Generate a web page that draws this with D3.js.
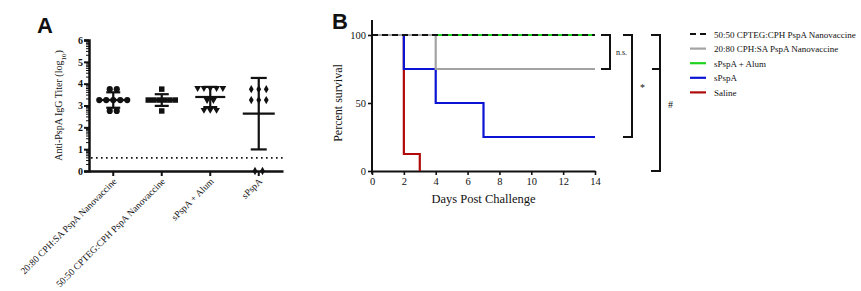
<!DOCTYPE html>
<html>
<head>
<meta charset="utf-8">
<script src="https://cdn.jsdelivr.net/npm/d3@7"></script>
<style>
  html, body { margin: 0; padding: 0; background: #fff; }
  svg { display: block; }
  text { font-family: "Liberation Serif", "Times New Roman", serif; fill: #111; }
</style>
</head>
<body>
<div id="chart"></div>
<script>
// ---- panel A data ----
const titerGroups = ['20:80 CPH:SA PspA Nanovaccine', '50:50 CPTEG:CPH PspA Nanovaccine', 'sPspA + Alum', 'sPspA'];
const titerShapes = ['circle', 'square', 'triangle', 'diamond'];
const titerCph    = [3.75, 3.75, 3.25, 3.25, 3.25, 3.25, 3.25, 2.75, 2.75];
const titerCpteg  = [3.75, 3.25, 3.25, 3.25, 3.25, 3.25, 3.25, 2.75];
const titerAlum   = [3.8, 3.8, 3.8, 3.8, 3.8, 3.25, 3.25, 2.8, 2.8, 2.8];
const titerSoluble= [3.75, 3.75, 3.75, 3.25, 3.25, 3.25, 0, 0];
const titerTicks  = [0, 1, 2, 3, 4, 5, 6];
const detectionLimit = 0.6;

// ---- panel B data ----
const survNames  = ['50:50 CPTEG:CPH PspA Nanovaccine', '20:80 CPH:SA PspA Nanovaccine', 'sPspA + Alum', 'sPspA', 'Saline'];
const survColors = ['#111111', '#a3a3a3', '#1ed21e', '#0a14d2', '#b00a0a'];
const survCpteg  = [[0, 100], [14, 100]];
const survCph    = [[0, 100], [4, 75], [14, 75]];
const survAlum   = [[0, 100], [14, 100]];
const survSoluble= [[0, 100], [2, 75], [4, 50], [7, 25], [14, 25]];
const survSaline = [[0, 100], [2, 12.5], [3, 0]];
const dayTicks   = [0, 2, 4, 6, 8, 10, 12, 14];
const pctTicks   = [0, 50, 100];
// brackets: [top %, bottom %, label]
const brackets   = [[100, 75, 'n.s.'], [100, 25, '*'], [100, 0, '#']];

const W = 861, H = 291;
const svg = d3.select('#chart').append('svg').attr('width', W).attr('height', H);

// ================= PANEL A =================
(function panelA() {
  const g = svg.append('g');
  const x = d3.scaleBand().domain(titerGroups).range([89, 283]);
  const y = d3.scaleLinear().domain([0, 6]).range([171, 40]);

  g.append('text').attr('x', 37).attr('y', 33)
    .style('font-family', '"Liberation Sans", Arial, sans-serif')
    .style('font-weight', 700).style('font-size', '22px')
    .text('A');

  // minor ticks (log spacing inside each unit)
  const minor = [];
  for (let d = 0; d < 6; d++) for (let k = 2; k <= 9; k++) minor.push(d + Math.log10(k));
  g.selectAll('line.minor').data(minor).join('line')
    .attr('x1', 86).attr('x2', 89)
    .attr('y1', d => y(d)).attr('y2', d => y(d))
    .attr('stroke', '#111').attr('stroke-width', 1);

  const yAxis = g.append('g').attr('transform', 'translate(89,0)')
    .call(d3.axisLeft(y).tickValues(titerTicks).tickSize(5).tickPadding(1).tickFormat(d3.format('d')));
  yAxis.select('.domain').attr('stroke', '#111').attr('stroke-width', 2.5);
  yAxis.selectAll('.tick line').attr('stroke', '#111').attr('stroke-width', 2);
  yAxis.selectAll('.tick text')
    .style('font-family', '"Liberation Serif", serif').style('font-weight', 700)
    .style('font-size', '10px').style('fill', '#111');

  const xAxis = g.append('g').attr('transform', 'translate(0,171)')
    .call(d3.axisBottom(x).tickSize(5).tickSizeOuter(0).tickFormat(''));
  xAxis.select('.domain').attr('stroke', '#111').attr('stroke-width', 2.5);
  xAxis.selectAll('.tick line').attr('stroke', '#111').attr('stroke-width', 2);

  // rotated category labels
  g.selectAll('text.cat').data(titerGroups).join('text')
    .attr('class', 'cat')
    .attr('text-anchor', 'end')
    .attr('transform', d => `translate(${x(d) + x.bandwidth() / 2 + 4},${182}) rotate(-45)`)
    .style('font-size', '9.5px')
    .text(d => d);

  // y label
  g.append('text')
    .attr('transform', `translate(62,${y(3)}) rotate(-90)`)
    .attr('text-anchor', 'middle')
    .style('font-size', '10px')
    .html('Anti-PspA IgG Titer (log<tspan baseline-shift="sub" font-size="7px">10</tspan>)');

  // detection limit
  g.append('line')
    .attr('x1', 91).attr('x2', 283)
    .attr('y1', y(detectionLimit)).attr('y2', y(detectionLimit))
    .attr('stroke', '#111').attr('stroke-width', 1.6)
    .attr('stroke-dasharray', '1.6,3.4');

  const series = [titerCph, titerCpteg, titerAlum, titerSoluble];
  const symType = { circle: d3.symbolCircle, square: d3.symbolSquare, triangle: d3.symbolTriangle, diamond: d3.symbolDiamond };
  const symSize = { circle: 30, square: 30, triangle: 20, diamond: 20 };
  const symGap  = { circle: 7, square: 5.4, triangle: 6.3, diamond: 7.5 };

  series.forEach((vals, i) => {
    const cat = titerGroups[i];
    const cx = x(cat) + x.bandwidth() / 2;
    const shape = titerShapes[i];
    const mean = d3.mean(vals), sd = d3.deviation(vals);
    const gg = g.append('g');

    // swarm: spread equal values side by side
    const rows = d3.group(vals, v => v);
    const pts = [];
    rows.forEach((arr, v) => arr.forEach((_, j) => pts.push({ v, dx: (j - (arr.length - 1) / 2) * symGap[shape] })));

    gg.selectAll('path.pt').data(pts).join('path')
      .attr('class', 'pt')
      .attr('d', d3.symbol().type(symType[shape]).size(symSize[shape]))
      .attr('transform', d => `translate(${cx + d.dx},${y(d.v)})${shape === 'triangle' ? ' rotate(180)' : ''}`)
      .attr('fill', '#111');

    // mean ± SD
    const wide = i === 3 ? 16 : 15, cap = i === 3 ? 8 : 7;
    const seg = [
      [cx - wide, y(mean), cx + wide, y(mean)],
      [cx, y(mean - sd), cx, y(mean + sd)],
      [cx - cap, y(mean + sd), cx + cap, y(mean + sd)],
      [cx - cap, y(mean - sd), cx + cap, y(mean - sd)]
    ];
    gg.selectAll('line.err').data(seg).join('line')
      .attr('x1', d => d[0]).attr('y1', d => d[1]).attr('x2', d => d[2]).attr('y2', d => d[3])
      .attr('stroke', '#111').attr('stroke-width', 2.2);
  });
})();

// ================= PANEL B =================
(function panelB() {
  const g = svg.append('g');
  const x = d3.scaleLinear().domain([0, 14]).range([372, 595]);
  const y = d3.scaleLinear().domain([0, 100]).range([171, 35]);

  g.append('text').attr('x', 332).attr('y', 29)
    .style('font-family', '"Liberation Sans", Arial, sans-serif')
    .style('font-weight', 700).style('font-size', '22px')
    .text('B');

  const yAxis = g.append('g').attr('transform', 'translate(372,0)')
    .call(d3.axisLeft(y).tickValues(pctTicks).tickSize(4).tickSizeOuter(0).tickPadding(2));
  yAxis.select('.domain').remove();
  yAxis.selectAll('.tick line').attr('stroke', '#111').attr('stroke-width', 1.6);
  yAxis.selectAll('.tick text').style('font-size', '10.5px').style('fill', '#111');
  g.append('line').attr('x1', 372).attr('x2', 372).attr('y1', y(-2)).attr('y2', y(111))
    .attr('stroke', '#111').attr('stroke-width', 2);

  const xAxis = g.append('g').attr('transform', 'translate(0,171)')
    .call(d3.axisBottom(x).tickValues(dayTicks).tickSize(4).tickSizeOuter(0).tickPadding(3));
  xAxis.select('.domain').attr('stroke', '#111').attr('stroke-width', 2);
  xAxis.selectAll('.tick line').attr('stroke', '#111').attr('stroke-width', 1.6);
  xAxis.selectAll('.tick text').style('font-size', '10.5px').style('fill', '#111');

  g.append('text').attr('x', x(7)).attr('y', 203).attr('text-anchor', 'middle')
    .style('font-size', '12.5px').text('Days Post Challenge');
  g.append('text').attr('transform', `translate(342,${y(50)}) rotate(-90)`)
    .attr('text-anchor', 'middle').style('font-size', '12px').text('Percent survival');

  const line = d3.line().x(d => x(d[0])).y(d => y(d[1])).curve(d3.curveStepAfter);
  const curves = [survCpteg, survCph, survAlum, survSoluble, survSaline];
  // draw bottom-up so dashed black lies on top
  [4, 3, 2, 1, 0].forEach(i => {
    g.append('path').datum(curves[i])
      .attr('d', line)
      .attr('fill', 'none')
      .attr('stroke', survColors[i])
      .attr('stroke-width', 2.2)
      .attr('stroke-dasharray', i === 0 ? '6,4' : null);
  });

  // significance brackets
  const bx = [610, 632, 660];
  brackets.forEach((b, i) => {
    const [top, bot, lab] = b;
    const px = bx[i];
    const p = d3.path();
    p.moveTo(px - 9, y(top)); p.lineTo(px, y(top)); p.lineTo(px, y(bot)); p.lineTo(px - 9, y(bot));
    if (i === 2) { p.moveTo(px - 8, y(75)); p.lineTo(px, y(75)); }
    g.append('path').attr('d', p.toString()).attr('fill', 'none')
      .attr('stroke', '#111').attr('stroke-width', 2);
    g.append('text')
      .attr('x', px + (i === 0 ? 6 : 8)).attr('y', (y(top) + y(bot)) / 2 + (i === 0 ? 3 : 5))
      .style('font-size', i === 0 ? '8px' : '10px')
      .text(lab);
  });

  // legend
  const lg = g.append('g');
  survNames.forEach((n, i) => {
    const yy = 34 + i * 14.6;
    lg.append('line').attr('x1', 690).attr('x2', 706).attr('y1', yy).attr('y2', yy)
      .attr('stroke', survColors[i]).attr('stroke-width', 2.2)
      .attr('stroke-dasharray', i === 0 ? '6,4' : null);
    lg.append('text').attr('x', 714).attr('y', yy + 3.5).style('font-size', '9px').text(n);
  });
})();
</script>
</body>
</html>
